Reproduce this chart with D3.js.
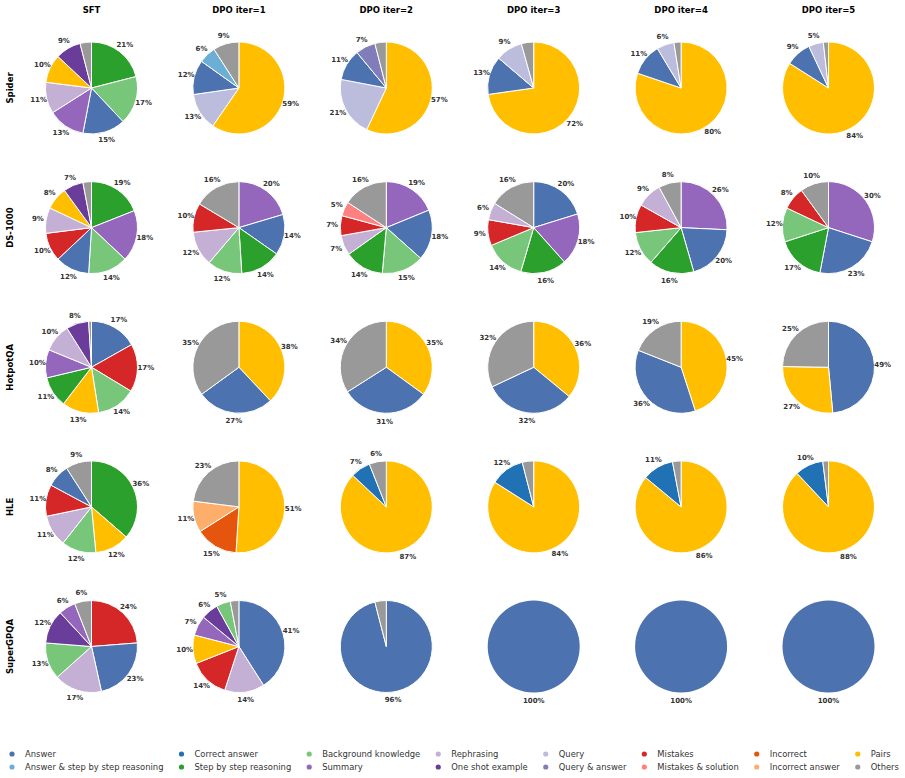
<!DOCTYPE html>
<html>
<head>
<meta charset="utf-8">
<script src="https://d3js.org/d3.v7.min.js"></script>
<style>
  body { margin: 0; background: #fff; }
  text { font-family: "DejaVu Sans", sans-serif; }
</style>
</head>
<body>
<script>
var width = 905, height = 778;

// columns and rows of the grid
var iterations = ["SFT", "DPO iter=1", "DPO iter=2", "DPO iter=3", "DPO iter=4", "DPO iter=5"];
var datasets = ["Spider", "DS-1000", "HotpotQA", "HLE", "SuperGPQA"];

// legend categories (column-major order) and their colours
var categories = ["Answer", "Answer & step by step reasoning", "Correct answer", "Step by step reasoning",
  "Background knowledge", "Summary", "Rephrasing", "One shot example", "Query", "Query & answer",
  "Mistakes", "Mistakes & solution", "Incorrect", "Incorrect answer", "Pairs", "Others"];
var catColors = ["#4c72b0", "#6baed6", "#2171b5", "#2ca02c",
  "#78c679", "#9467bd", "#c5b0d5", "#6a3d9a", "#bcbddc", "#807dba",
  "#d62728", "#ff8080", "#e6550d", "#fdae6b", "#ffbf00", "#999999"];

// slices per pie, clockwise from 12 o'clock: [category, percent]
var spider = [
  [["Step by step reasoning", 21], ["Background knowledge", 17], ["Answer", 15], ["Summary", 13], ["Rephrasing", 11], ["Pairs", 10], ["One shot example", 9], ["Others", 4]],
  [["Pairs", 59], ["Query", 13], ["Answer", 12], ["Answer & step by step reasoning", 6], ["Others", 9]],
  [["Pairs", 57], ["Query", 21], ["Answer", 11], ["Query & answer", 7], ["Others", 4]],
  [["Pairs", 72.4], ["Answer", 13.4], ["Query", 9.4], ["Others", 4.3]],
  [["Pairs", 80.2], ["Answer", 11.2], ["Query", 6.1], ["Others", 2.5]],
  [["Pairs", 84], ["Answer", 9], ["Query", 5.2], ["Others", 1.8]]
];
var ds1000 = [
  [["Step by step reasoning", 19], ["Summary", 18], ["Background knowledge", 14], ["Answer", 12], ["Mistakes", 10], ["Rephrasing", 9], ["Pairs", 8], ["One shot example", 7], ["Others", 3]],
  [["Summary", 20.4], ["Answer", 14.3], ["Step by step reasoning", 14.3], ["Background knowledge", 12.2], ["Rephrasing", 12.2], ["Mistakes", 10.2], ["Others", 16.4]],
  [["Summary", 18.8], ["Answer", 17.8], ["Background knowledge", 14.8], ["Step by step reasoning", 13.8], ["Rephrasing", 7], ["Mistakes", 7], ["Mistakes & solution", 5], ["Others", 15.8]],
  [["Answer", 20], ["Summary", 18], ["Step by step reasoning", 16], ["Background knowledge", 14], ["Mistakes", 9], ["Rephrasing", 6], ["Others", 16]],
  [["Summary", 26], ["Answer", 20], ["Step by step reasoning", 16], ["Background knowledge", 12], ["Mistakes", 10], ["Rephrasing", 9], ["Others", 8]],
  [["Summary", 30], ["Answer", 23], ["Step by step reasoning", 17], ["Background knowledge", 12], ["Mistakes", 8], ["Others", 10]]
];
var hotpotqa = [
  [["Answer", 17], ["Mistakes", 17], ["Background knowledge", 14], ["Pairs", 13], ["Step by step reasoning", 11], ["Summary", 10], ["Rephrasing", 10], ["One shot example", 8], ["Others", 1]],
  [["Pairs", 38], ["Answer", 27], ["Others", 35]],
  [["Pairs", 35], ["Answer", 31], ["Others", 34]],
  [["Pairs", 36], ["Answer", 32], ["Others", 32]],
  [["Pairs", 45], ["Answer", 36], ["Others", 19]],
  [["Answer", 49], ["Pairs", 27], ["Others", 25]]
];
var hle = [
  [["Step by step reasoning", 36], ["Pairs", 12], ["Background knowledge", 12], ["Rephrasing", 11], ["Mistakes", 11], ["Answer", 8], ["Others", 9]],
  [["Pairs", 51], ["Incorrect", 15], ["Incorrect answer", 11], ["Others", 23]],
  [["Pairs", 87], ["Correct answer", 7], ["Others", 6]],
  [["Pairs", 84], ["Correct answer", 12], ["Others", 4]],
  [["Pairs", 86], ["Correct answer", 11], ["Others", 3]],
  [["Pairs", 88], ["Correct answer", 10], ["Others", 2]]
];
var supergpqa = [
  [["Mistakes", 24], ["Answer", 23], ["Rephrasing", 17], ["Background knowledge", 13], ["One shot example", 12], ["Summary", 6], ["Others", 6]],
  [["Answer", 41], ["Rephrasing", 14], ["Mistakes", 14], ["Pairs", 10], ["Summary", 7], ["One shot example", 6], ["Background knowledge", 5], ["Others", 3]],
  [["Answer", 96], ["Others", 4]],
  [["Answer", 100]],
  [["Answer", 100]],
  [["Answer", 100]]
];
var allPies = [spider, ds1000, hotpotqa, hle, supergpqa];

var color = d3.scaleOrdinal().domain(categories).range(catColors);

var svg = d3.select('body').append('svg').attr('width', width).attr('height', height);

// grid layout
var x = d3.scalePoint().domain(iterations).range([91.5, 828.5]);
var y = d3.scalePoint().domain(datasets).range([88, 646.5]);
var r = 46;

var pie = d3.pie().sort(null).value(function(d) { return d[1]; });
var arc = d3.arc().innerRadius(0).outerRadius(r);
var labelArc = d3.arc().innerRadius(r * 1.18).outerRadius(r * 1.18);

// column titles
svg.selectAll('.coltitle').data(iterations).join('text')
  .attr('x', function(d) { return x(d); })
  .attr('y', 10)
  .attr('text-anchor', 'middle').attr('dominant-baseline', 'central')
  .attr('font-size', 8.5).attr('font-weight', 'bold').attr('fill', '#000')
  .text(function(d) { return d; });

// row labels
svg.selectAll('.rowtitle').data(datasets).join('text')
  .attr('transform', function(d) { return 'translate(10,' + y(d) + ') rotate(-90)'; })
  .attr('text-anchor', 'middle').attr('dominant-baseline', 'central')
  .attr('font-size', 8.5).attr('font-weight', 'bold').attr('fill', '#000')
  .text(function(d) { return d; });

datasets.forEach(function(ds, j) {
  iterations.forEach(function(it, i) {
    var g = svg.append('g').attr('transform', 'translate(' + x(it) + ',' + y(ds) + ')');
    var arcs = pie(allPies[j][i]);
    g.selectAll('path').data(arcs).join('path')
      .attr('d', arc)
      .attr('fill', function(d) { return color(d.data[0]); })
      .attr('stroke', '#fff').attr('stroke-width', arcs.length > 1 ? 1 : 0);
    g.selectAll('text').data(arcs.filter(function(d) { return d.data[1] >= 4.5; })).join('text')
      .attr('transform', function(d) { return 'translate(' + labelArc.centroid(d) + ')'; })
      .attr('text-anchor', 'middle').attr('dominant-baseline', 'central')
      .attr('font-size', 7).attr('font-weight', 'bold').attr('fill', '#333')
      .text(function(d) { return Math.round(d.data[1]) + '%'; });
  });
});

// legend: 8 columns x 2 rows, column width from the widest label
var legend = svg.append('g');
var lx = 12;
for (var c = 0; c < 8; c++) {
  var maxW = 0;
  for (var k = 0; k < 2; k++) {
    var cat = categories[c * 2 + k];
    var ly = 754 + k * 13;
    legend.append('circle').attr('cx', lx).attr('cy', ly).attr('r', 2.6).attr('fill', color(cat));
    var t = legend.append('text').attr('x', lx + 13).attr('y', ly)
      .attr('dominant-baseline', 'central').attr('font-size', 8.4).attr('fill', '#333')
      .text(cat);
    maxW = Math.max(maxW, t.node().getComputedTextLength());
  }
  lx = lx + 13 + maxW + 18;
}
</script>
</body>
</html>
